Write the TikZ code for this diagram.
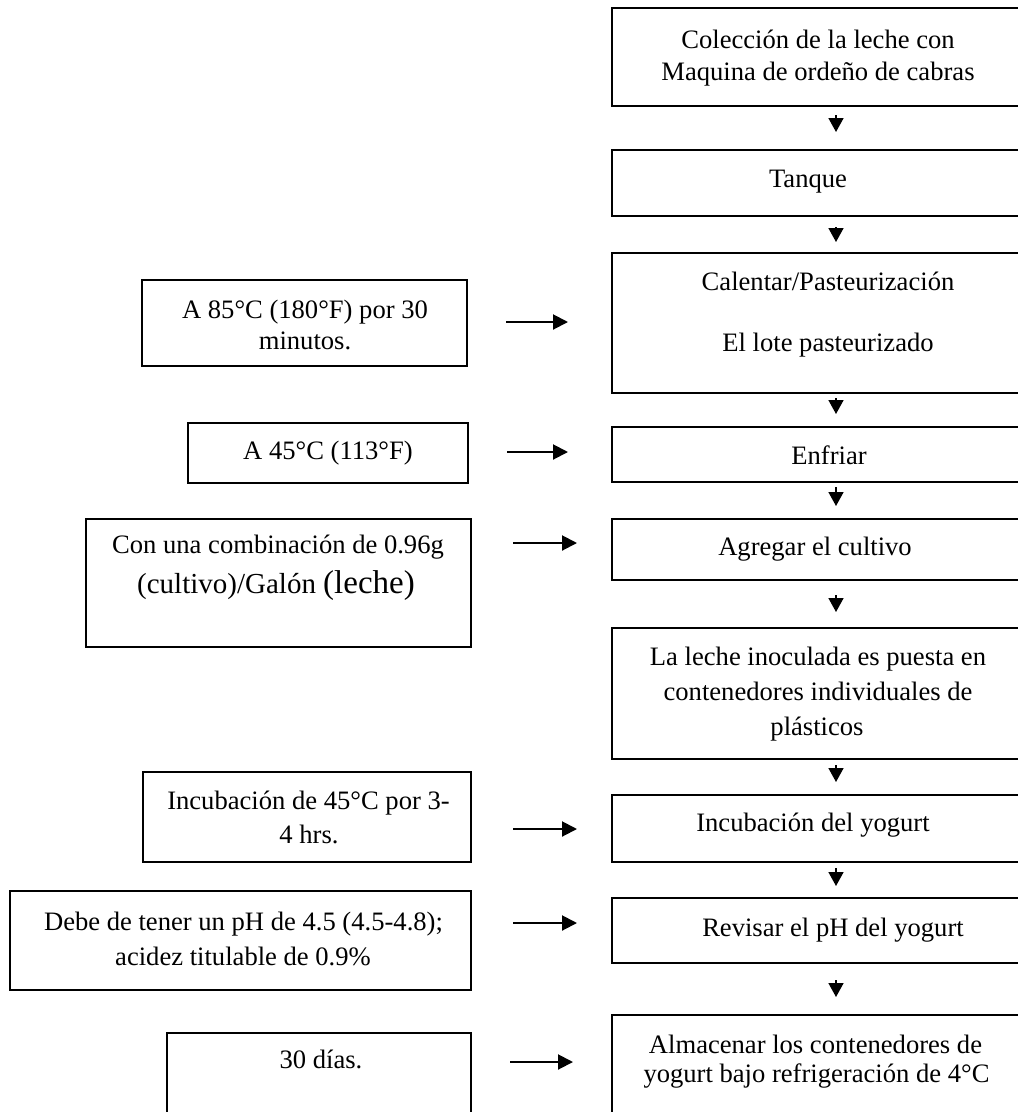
\documentclass[tikz,border=0pt]{standalone}
\usepackage{fontspec}
\setmainfont{Liberation Serif}
\usetikzlibrary{arrows.meta,calc}
\begin{document}
\begin{tikzpicture}[x=1pt,y=-1pt,
  box/.style={draw, line width=1.5pt, rectangle, inner sep=0pt, outer sep=0pt, anchor=north west},
  txt/.style={anchor=base, inner sep=0pt, font=\fontsize{26.6}{32}\selectfont},
  varr/.style={line width=1.6pt, -{Triangle[width=15pt,length=14pt]}},
  harr/.style={line width=2pt, -{Triangle[width=15pt,length=15pt]}}]
\useasboundingbox (0,0) rectangle (1018,1112);
\clip (0,0) rectangle (1018,1112);

% right column boxes (their right sides run off the page)
\node[box, minimum width=480pt, minimum height=98pt]  (R1) at (612,8) {};
\node[box, minimum width=480pt, minimum height=66pt]  (R2) at (612,150) {};
\node[box, minimum width=480pt, minimum height=140pt] (R3) at (612,253) {};
\node[box, minimum width=480pt, minimum height=55pt]  (R4) at (612,427) {};
\node[box, minimum width=480pt, minimum height=61pt]  (R5) at (612,519) {};
\node[box, minimum width=480pt, minimum height=131pt] (R6) at (612,628) {};
\node[box, minimum width=480pt, minimum height=67pt]  (R7) at (612,795) {};
\node[box, minimum width=480pt, minimum height=65pt]  (R8) at (612,898) {};
\node[box, minimum width=480pt, minimum height=130pt] (R9) at (612,1015) {};

% left column boxes
\node[box, minimum width=325pt, minimum height=86pt]  (L1) at (142,280) {};
\node[box, minimum width=280pt, minimum height=60pt]  (L2) at (188,423) {};
\node[box, minimum width=385pt, minimum height=128pt] (L3) at (86,519) {};
\node[box, minimum width=328pt, minimum height=90pt]  (L4) at (143,772) {};
\node[box, minimum width=461pt, minimum height=99pt]  (L5) at (10,891) {};
\node[box, minimum width=304pt, minimum height=120pt] (L6) at (167,1033) {};

% right texts
\node[txt] (r1a) at (818,48) {Colección de la leche con};
\node[txt] (r1b) at (818,80) {Maquina de ordeño de cabras};
\node[txt] (r2a) at (808,187) {Tanque};
\node[txt] (r3a) at (828,290) {Calentar/Pasteurización};
\node[txt] (r3b) at (828,351) {El lote pasteurizado};
\node[txt] (r4a) at (829,464) {Enfriar};
\node[txt] (r5a) at (815,555) {Agregar el cultivo};
\node[txt] (r6a) at (818,665) {La leche inoculada es puesta en};
\node[txt] (r6b) at (818,700) {contenedores individuales de};
\node[txt] (r6c) at (817,735) {plásticos};
\node[txt] (r7a) at (813,831) {Incubación del yogurt};
\node[txt] (r8a) at (833,936) {Revisar el pH del yogurt};
\node[txt] (r9a) at (815.5,1053) {Almacenar los contenedores de};
\node[txt] (r9b) at (816.5,1082) {yogurt bajo refrigeración de 4°C};

% left texts
\node[txt] (l1a) at (305,318) {A 85°C (180°F) por 30};
\node[txt] (l1b) at (305,349) {minutos.};
\node[txt] (l2a) at (328,459) {A 45°C (113°F)};
\node[txt] (l3a) at (278,553) {Con una combinación de 0.96g};
\node[txt] (l3b) at (276,593) {\fontsize{29}{34}\selectfont (cultivo)/Galón {\fontsize{33}{38}\selectfont (leche)}};
\node[txt] (l4a) at (308.5,809) {Incubación de 45°C por 3-};
\node[txt] (l4b) at (309,843) {4 hrs.};
\node[txt] (l5a) at (243.5,930) {Debe de tener un pH de 4.5 (4.5-4.8);};
\node[txt] (l5b) at (243,965) {acidez titulable de 0.9\%};
\node[txt] (l6a) at (321,1068) {30 días.};

% vertical arrows
\draw[varr, shorten <=9pt,  shorten >=18pt] ([xshift=224pt]R1.south west) -- ([xshift=224pt]R2.north west);
\draw[varr, shorten <=11pt, shorten >=11pt] ([xshift=224pt]R2.south west) -- ([xshift=224pt]R3.north west);
\draw[varr, shorten <=5pt,  shorten >=13pt] ([xshift=224pt]R3.south west) -- ([xshift=224pt]R4.north west);
\draw[varr, shorten <=5pt,  shorten >=13pt] ([xshift=224pt]R4.south west) -- ([xshift=224pt]R5.north west);
\draw[varr, shorten <=15pt, shorten >=16pt] ([xshift=224pt]R5.south west) -- ([xshift=224pt]R6.north west);
\draw[varr, shorten <=6pt,  shorten >=13pt] ([xshift=224pt]R6.south west) -- ([xshift=224pt]R7.north west);
\draw[varr, shorten <=6pt,  shorten >=12pt] ([xshift=224pt]R7.south west) -- ([xshift=224pt]R8.north west);
\draw[varr, shorten <=17pt, shorten >=18pt] ([xshift=224pt]R8.south west) -- ([xshift=224pt]R9.north west);

% horizontal arrows
\draw[harr] ($(L1.east)+(39,-1)$) -- ($(L1.east -| R3.west)+(-44,-1)$);
\draw[harr] ($(L2.east)+(39,-1)$) -- ($(L2.east -| R4.west)+(-44,-1)$);
\draw[harr] ($(L3.east)+(42,-40)$) -- ($(L3.east -| R5.west)+(-35,-40)$);
\draw[harr] ($(L4.east)+(42,12)$) -- ($(L4.east -| R7.west)+(-35,12)$);
\draw[harr] ($(L5.east)+(42,-17.5)$) -- ($(L5.east -| R8.west)+(-35,-17.5)$);
\draw[harr] ($(L6.east)+(39,-31)$) -- ($(L6.east -| R9.west)+(-39,-31)$);
\end{tikzpicture}
\end{document}
